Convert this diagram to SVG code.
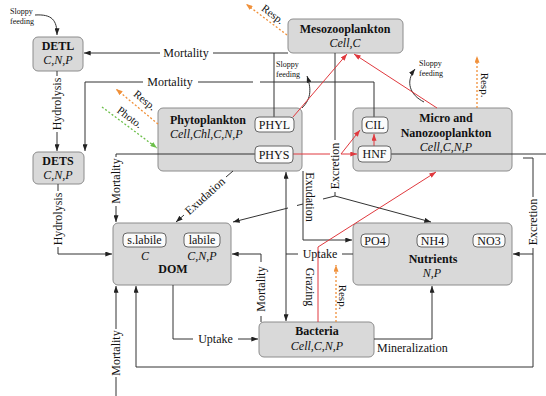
<svg xmlns="http://www.w3.org/2000/svg" width="546" height="396" viewBox="0 0 546 396">
<defs>
<style>
.box{fill:#d9d9d9;stroke:#8c8c8c;stroke-width:1}
.sub{fill:#fbfbfb;stroke:#666;stroke-width:1}
text{font-family:"Liberation Serif","Times New Roman",serif;fill:#111}
.t{font-size:12px}
.b{font-size:12px;font-weight:bold}
.i{font-size:12px;font-style:italic}
.s{font-size:8px}
.lb{font-size:12px}
.rs{font-size:11px}
.c{text-anchor:middle;dominant-baseline:central}
.ln{fill:none;stroke:#333;stroke-width:1}
.rd{fill:none;stroke:#e0393e;stroke-width:1}
.or{fill:none;stroke:#f0903a;stroke-width:1.3;stroke-dasharray:2 2}
.gr{fill:none;stroke:#6cbf4a;stroke-width:1.3;stroke-dasharray:2 2}
</style>
<marker id="ak" viewBox="0 0 8 6" refX="8" refY="3" markerWidth="7" markerHeight="5" markerUnits="userSpaceOnUse" orient="auto"><path d="M0,0 L8,3 L0,6 z" fill="#222"/></marker>
<marker id="ar" viewBox="0 0 8 6" refX="8" refY="3" markerWidth="7" markerHeight="5" markerUnits="userSpaceOnUse" orient="auto"><path d="M0,0 L8,3 L0,6 z" fill="#e0393e"/></marker>
<marker id="ao" viewBox="0 0 8 6" refX="8" refY="3" markerWidth="7" markerHeight="5" markerUnits="userSpaceOnUse" orient="auto"><path d="M0,0 L8,3 L0,6 z" fill="#f0903a"/></marker>
<marker id="ag" viewBox="0 0 8 6" refX="8" refY="3" markerWidth="7" markerHeight="5" markerUnits="userSpaceOnUse" orient="auto"><path d="M0,0 L8,3 L0,6 z" fill="#6cbf4a"/></marker>
</defs>
<rect width="546" height="396" fill="#fff"/>

<g id="nodes-back">
<g id="DETL"><rect class="box" x="33" y="37" width="50" height="34" rx="5"/><text class="b" x="58" y="50" text-anchor="middle">DETL</text><text class="i" x="58" y="64" text-anchor="middle">C,N,P</text></g>
<g id="DETS"><rect class="box" x="33" y="152" width="51" height="32" rx="5"/><text class="b" x="58" y="165" text-anchor="middle">DETS</text><text class="i" x="58" y="179" text-anchor="middle">C,N,P</text></g>
<g id="Mesozooplankton"><rect class="box" x="288" y="19" width="115" height="34" rx="5"/><text class="b" x="345" y="33" text-anchor="middle">Mesozooplankton</text><text class="i" x="345" y="47" text-anchor="middle">Cell,C</text></g>
<g id="Phytoplankton"><rect class="box" x="158" y="108" width="144" height="63" rx="5"/><text class="b" x="170" y="124">Phytoplankton</text><text class="i" x="170" y="138">Cell,Chl,C,N,P</text></g>
<g id="MicroNano"><rect class="box" x="353" y="108" width="159" height="63" rx="5"/><text class="b" x="446" y="122" text-anchor="middle">Micro and</text><text class="b" x="446" y="137" text-anchor="middle">Nanozooplankton</text><text class="i" x="446" y="151" text-anchor="middle">Cell,C,N,P</text></g>
<g id="DOM"><rect class="box" x="113" y="223" width="118" height="62" rx="5"/><text class="i" x="145" y="260" text-anchor="middle">C</text><text class="i" x="202" y="260" text-anchor="middle">C,N,P</text><text class="b" x="173" y="273" text-anchor="middle">DOM</text></g>
<g id="Nutrients"><rect class="box" x="353" y="223" width="159" height="62" rx="5"/><text class="b" x="433" y="263" text-anchor="middle">Nutrients</text><text class="i" x="432" y="277" text-anchor="middle">N,P</text></g>
<g id="Bacteria"><rect class="box" x="259" y="322" width="115" height="35" rx="5"/><text class="b" x="317" y="335" text-anchor="middle">Bacteria</text><text class="i" x="317" y="350" text-anchor="middle">Cell,C,N,P</text></g>
</g>

<g id="connectors">
<!-- sloppy feeding curves -->
<path class="ln" d="M35,15 C52,14 57,20 57,35" marker-end="url(#ak)"/>
<path class="ln" d="M302,108 C312,98 311,88 307,76" marker-end="url(#ak)"/>
<path class="ln" d="M424,102 C410,95 405,82 415,69" marker-end="url(#ak)"/>
<!-- top mortality -->
<path class="ln" d="M288,53 H213 M160,53 H84" marker-end="url(#ak)"/>
<path class="ln" d="M274,117 V53"/>
<!-- second mortality -->
<path class="ln" d="M374,117 V82 H260 M253,82 H198 M143,82 H85 V151" marker-end="url(#ak)"/>
<!-- hydrolysis -->
<path class="ln" d="M57,71 V76 M57,132 V151" marker-end="url(#ak)"/>
<path class="ln" d="M58,184 V191 M58,247 V254 H112" marker-end="url(#ak)"/>
<!-- PHYS mortality to DOM -->
<path class="ln" d="M255,154 H116 V157 M116,206 V222" marker-end="url(#ak)"/>
<!-- exudation to DOM -->
<path class="ln" d="M233,171 L226,177 M184,215 L176,222" marker-end="url(#ak)"/>
<!-- meso excretion -->
<path class="ln" d="M335,53 V140 M335,192 V196"/>
<path class="ln" d="M335,196 L323,199 M303,204 L297,205.5 M288,208 L233,222" marker-end="url(#ak)"/>
<path class="ln" d="M335,196 L431,222" marker-end="url(#ak)"/>
<!-- exudation to nutrients -->
<path class="ln" d="M303,171 V240 H352" marker-end="url(#ak)"/>
<!-- uptake phyto / bacteria -->
<path class="ln" d="M353,254 H342 M298,254 H286"/>
<path class="ln" d="M286,254 V172" marker-end="url(#ak)"/>
<path class="ln" d="M286,254 V321" marker-end="url(#ak)"/>
<!-- bacteria mortality -->
<path class="ln" d="M261,322 V316 M261,262 V254 H232" marker-end="url(#ak)"/>
<!-- DOM to bacteria uptake -->
<path class="ln" d="M173,285 V339 H193 M238,339 H258" marker-end="url(#ak)"/>
<!-- mineralization -->
<path class="ln" d="M374,339 H432 V286" marker-end="url(#ak)"/>
<!-- right excretion -->
<path class="ln" d="M523,158 H533 V197 M533,248 V367 H136 V286" marker-end="url(#ak)"/>
<path class="ln" d="M533,254 H513" marker-end="url(#ak)"/>
<!-- bottom mortality -->
<path class="ln" d="M116,396 V377 M116,329 V286" marker-end="url(#ak)"/>
<!-- HNF line -->
<path class="ln" d="M391,154 H546"/>
<!-- red grazing -->
<path class="rd" d="M293,154 H330 M341,154 H357" marker-end="url(#ar)"/>
<path class="rd" d="M341,154 L360,130" marker-end="url(#ar)"/>
<path class="rd" d="M374,146 V134" marker-end="url(#ar)"/>
<path class="rd" d="M293,117 L347,54" marker-end="url(#ar)"/>
<path class="rd" d="M437,108 L354,54" marker-end="url(#ar)"/>
<path class="rd" d="M318,322 V247 L436,172" marker-end="url(#ar)"/>
<!-- respiration / photosynthesis -->
<path class="or" d="M287,35 L246,4" marker-end="url(#ao)"/>
<path class="or" d="M158,124 L116,89" marker-end="url(#ao)"/>
<path class="gr" d="M102,107 L157,148" marker-end="url(#ag)"/>
<path class="or" d="M477,108 V56" marker-end="url(#ao)"/>
<path class="or" d="M336,322 V265" marker-end="url(#ao)"/>

<!-- labels -->
<text class="s" x="10" y="14">Sloppy</text><text class="s" x="10" y="24">feeding</text>
<text class="s" x="276" y="67">Sloppy</text><text class="s" x="276" y="77">feeding</text>
<text class="s" x="419" y="66">Sloppy</text><text class="s" x="419" y="76">feeding</text>
<text class="lb c" x="186" y="53">Mortality</text>
<text class="lb c" x="170" y="82">Mortality</text>
<text class="lb c" transform="translate(57,104) rotate(-90)">Hydrolysis</text>
<text class="lb c" transform="translate(58,219) rotate(-90)">Hydrolysis</text>
<text class="lb c" transform="translate(116,181) rotate(-90)">Mortality</text>
<text class="lb c" transform="translate(205,196) rotate(-42)">Exudation</text>
<text class="lb c" transform="translate(335,166) rotate(-90)">Excretion</text>
<text class="lb c" transform="translate(310,197) rotate(90)">Exudation</text>
<text class="lb c" x="320" y="254">Uptake</text>
<text class="lb c" transform="translate(261,289) rotate(-90)">Mortality</text>
<text class="lb c" transform="translate(310,287) rotate(90)">Grazing</text>
<text class="rs c" transform="translate(343,297) rotate(90)">Resp.</text>
<text class="lb c" x="215.5" y="339">Uptake</text>
<text class="lb" x="377" y="352">Mineralization</text>
<text class="lb c" transform="translate(533,222) rotate(-90)">Excretion</text>
<text class="lb c" transform="translate(116,353) rotate(-90)">Mortality</text>
<text class="rs c" transform="translate(273,14) rotate(37)">Resp.</text>
<text class="rs c" transform="translate(145,100) rotate(39)">Resp.</text>
<text class="rs c" transform="translate(130,117) rotate(37)">Photo.</text>
<text class="rs c" transform="translate(485,85) rotate(90)">Resp.</text>
</g>

<g id="compartments">
<g id="PHYL"><rect class="sub" x="255" y="117" width="39" height="15" rx="4"/><text class="t" x="274.5" y="129" text-anchor="middle">PHYL</text></g>
<g id="PHYS"><rect class="sub" x="255" y="146" width="38" height="17" rx="4"/><text class="t" x="274" y="159" text-anchor="middle">PHYS</text></g>
<g id="CIL"><rect class="sub" x="362" y="117" width="26" height="16" rx="4"/><text class="t" x="375" y="129" text-anchor="middle">CIL</text></g>
<g id="HNF"><rect class="sub" x="358" y="146" width="33" height="16" rx="4"/><text class="t" x="374.5" y="158" text-anchor="middle">HNF</text></g>
<g id="slabile"><rect class="sub" x="123" y="233" width="43" height="14" rx="4"/><text class="t" x="144.5" y="244" text-anchor="middle">s.labile</text></g>
<g id="labile"><rect class="sub" x="184" y="233" width="36" height="14" rx="4"/><text class="t" x="202" y="244" text-anchor="middle">labile</text></g>
<g id="PO4"><rect class="sub" x="361" y="234" width="28" height="13" rx="4"/><text class="t" x="375" y="245" text-anchor="middle">PO4</text></g>
<g id="NH4"><rect class="sub" x="417" y="234" width="31" height="13" rx="4"/><text class="t" x="432.5" y="245" text-anchor="middle">NH4</text></g>
<g id="NO3"><rect class="sub" x="473" y="234" width="32" height="13" rx="4"/><text class="t" x="489" y="245" text-anchor="middle">NO3</text></g>
</g>
</svg>
